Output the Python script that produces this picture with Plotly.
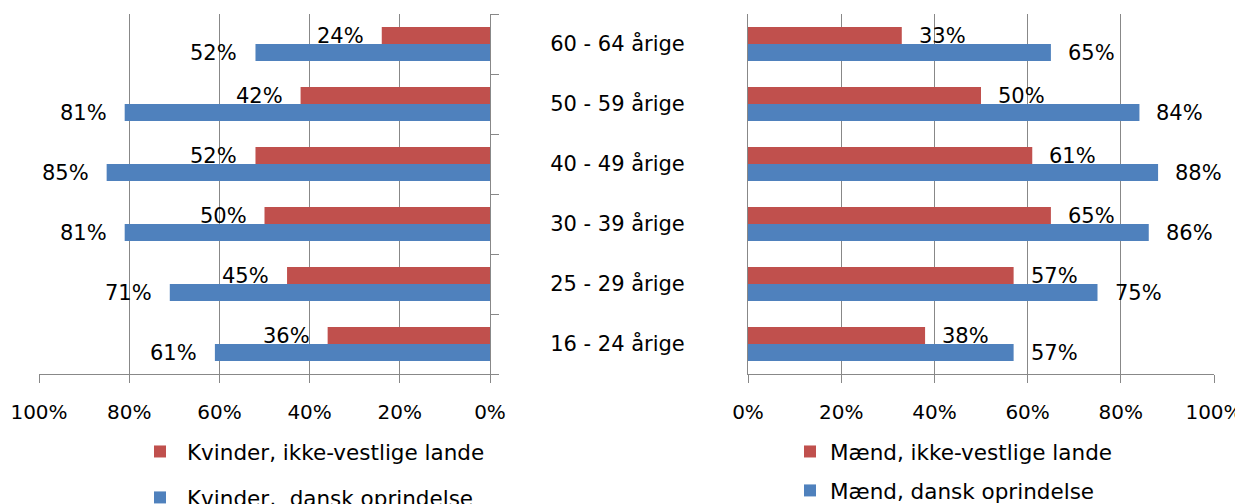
import plotly.graph_objects as go

ages = ["16 - 24 årige", "25 - 29 årige", "30 - 39 årige",
        "40 - 49 årige", "50 - 59 årige", "60 - 64 årige"]
women_nonwestern = [36, 45, 50, 52, 42, 24]
women_danish = [61, 71, 81, 85, 81, 52]
men_nonwestern = [38, 57, 65, 61, 50, 33]
men_danish = [57, 75, 86, 88, 84, 65]
tick_vals = [0, 20, 40, 60, 80, 100]
tick_text = ["0%", "20%", "40%", "60%", "80%", "100%"]
name_wr = "Kvinder, ikke-vestlige lande"
name_wd = "Kvinder,\u00a0 dansk oprindelse"
name_mr = "Mænd, ikke-vestlige lande"
name_md = "Mænd, dansk oprindelse"

RED = "#C0504D"
BLUE = "#4F81BD"
GRID = "#888888"
FONT = "DejaVu Sans"
# the page body has an 8px margin, so the figure is 8px smaller on each axis
W, H = 1235, 496

fig = go.Figure()
fig.add_trace(go.Bar(y=ages, x=women_danish, orientation="h", name=name_wd,
                     marker=dict(color=BLUE, line=dict(width=0)), legendrank=2,
                     xaxis="x", yaxis="y", legend="legend", legendgroup="wd"))
fig.add_trace(go.Bar(y=ages, x=women_nonwestern, orientation="h", name=name_wr,
                     marker=dict(color=RED, line=dict(width=0)), legendrank=1,
                     xaxis="x", yaxis="y", legend="legend", legendgroup="wr"))
fig.add_trace(go.Bar(y=ages, x=men_danish, orientation="h", name=name_md,
                     marker=dict(color=BLUE, line=dict(width=0)), legendrank=2,
                     xaxis="x2", yaxis="y2", legend="legend2", legendgroup="md"))
fig.add_trace(go.Bar(y=ages, x=men_nonwestern, orientation="h", name=name_mr,
                     marker=dict(color=RED, line=dict(width=0)), legendrank=1,
                     xaxis="x2", yaxis="y2", legend="legend2", legendgroup="mr"))

LBL = dict(size=21, color="black", family=FONT)
annotations = []
for a, v in zip(ages, women_nonwestern):
    annotations.append(dict(x=v, y=a, xref="x", yref="y", text=f"{v}%", showarrow=False,
                            font=LBL, xanchor="right", yanchor="middle", xshift=-16, yshift=8.5))
for a, v in zip(ages, women_danish):
    annotations.append(dict(x=v, y=a, xref="x", yref="y", text=f"{v}%", showarrow=False,
                            font=LBL, xanchor="right", yanchor="middle", xshift=-16, yshift=-8.5))
for a, v in zip(ages, men_nonwestern):
    annotations.append(dict(x=v, y=a, xref="x2", yref="y2", text=f"{v}%", showarrow=False,
                            font=LBL, xanchor="left", yanchor="middle", xshift=15, yshift=8.5))
for a, v in zip(ages, men_danish):
    annotations.append(dict(x=v, y=a, xref="x2", yref="y2", text=f"{v}%", showarrow=False,
                            font=LBL, xanchor="left", yanchor="middle", xshift=15, yshift=-8.5))

xcommon = dict(tickvals=tick_vals, ticktext=tick_text, showgrid=True, gridcolor=GRID,
               gridwidth=1, showline=True, linecolor=GRID, linewidth=1, ticks="outside",
               ticklen=8, tickcolor=GRID, zeroline=False, ticklabelstandoff=12,
               tickangle=0, automargin=False, ticklabeloverflow="allow",
               tickfont=dict(size=20, color="black", family=FONT), fixedrange=True)

fig.update_layout(
    width=W, height=H,
    template="none",
    paper_bgcolor="white", plot_bgcolor="white",
    margin=dict(l=0, r=0, t=6, b=130, autoexpand=False),
    font=dict(family=FONT, size=20, color="black"),
    barmode="group", bargap=0.433, bargroupgap=0,
    showlegend=True,
    xaxis=dict(domain=[31 / W, 482 / W], range=[100, 0], anchor="y", **xcommon),
    xaxis2=dict(domain=[740 / W, 1206 / W], range=[0, 100], anchor="y2", **xcommon),
    yaxis=dict(domain=[0, 1], anchor="x", side="right", categoryorder="array",
               categoryarray=ages, showticklabels=False, ticks="outside",
               tickson="boundaries", ticklen=8, tickcolor=GRID, showline=True,
               linecolor=GRID, linewidth=1, showgrid=False, zeroline=False,
               automargin=False),
    yaxis2=dict(domain=[0, 1], anchor="x2", side="left", categoryorder="array",
                categoryarray=ages, ticks="", showline=True, linecolor=GRID,
                linewidth=1, showgrid=False, zeroline=False, ticklabelstandoff=58,
                automargin=False,
                tickfont=dict(size=21, color="black", family=FONT)),
    legend=dict(xref="container", yref="container", x=125 / W, y=1 - 423 / H,
                xanchor="left", yanchor="top", itemwidth=44, tracegroupgap=15,
                traceorder="grouped", bgcolor="rgba(0,0,0,0)",
                font=dict(size=21.5, color="black", family=FONT)),
    legend2=dict(xref="container", yref="container", x=782 / W, y=1 - 423 / H,
                 xanchor="left", yanchor="top", itemwidth=30, tracegroupgap=8,
                 traceorder="grouped", bgcolor="rgba(0,0,0,0)",
                 font=dict(size=21.5, color="black", family=FONT)),
    annotations=annotations,
)

fig.write_html("out.html")
